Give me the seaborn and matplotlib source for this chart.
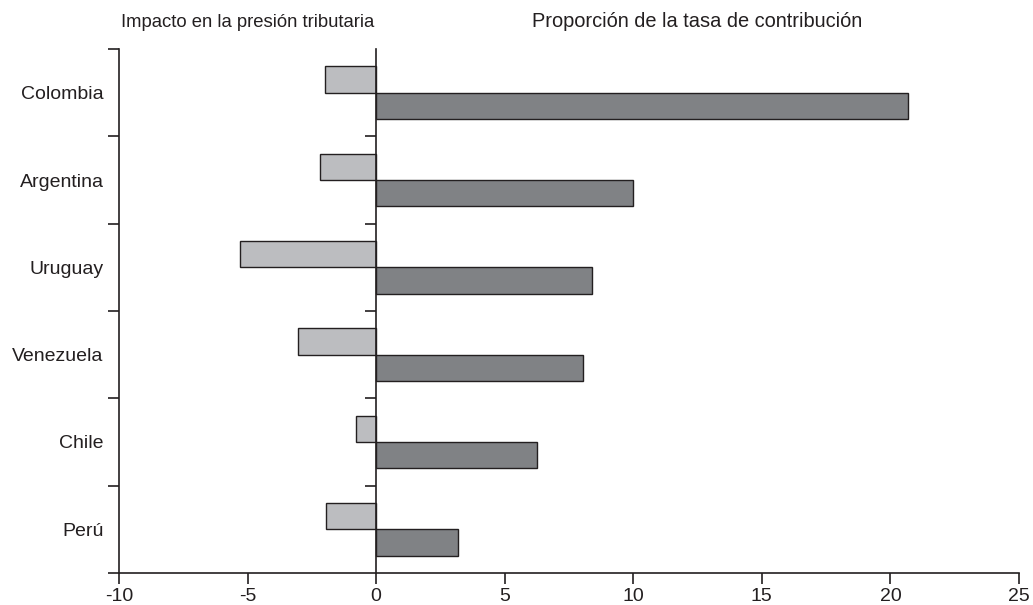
import numpy as np
import pandas as pd
import matplotlib
matplotlib.use("Agg")
import matplotlib.pyplot as plt
import seaborn as sns

paises = ["Colombia", "Argentina", "Uruguay", "Venezuela", "Chile", "Perú"]
impacto_presion = [-2.0, -2.2, -5.3, -3.05, -0.8, -1.95]
proporcion_tasa = [20.7, 10.0, 8.4, 8.05, 6.25, 3.2]
series = ["Impacto en la presión tributaria", "Proporción de la tasa de contribución"]
xticks = [-10, -5, 0, 5, 10, 15, 20, 25]

df = pd.DataFrame({
    "pais": paises * 2,
    "serie": [series[0]] * len(paises) + [series[1]] * len(paises),
    "valor": impacto_presion + proporcion_tasa,
})

sns.set_theme(style="white")
plt.rcParams["font.family"] = ["Liberation Sans", "DejaVu Sans"]

ink = "#231f20"
fig = plt.figure(figsize=(10.33, 6.05), dpi=100)
ax = fig.add_axes([0.1152, 0.0529, 0.8712, 0.8661])

sns.barplot(data=df, y="pais", x="valor", hue="serie", order=paises,
            hue_order=series, palette=["#bcbdc0", "#808285"], orient="h",
            width=0.6, dodge=True, gap=0, edgecolor=ink, linewidth=1.0,
            saturation=1, legend=False, ax=ax)

ax.set_xlim(-10, 25)
ax.set_ylim(len(paises) - 0.5, -0.5)
ax.set_xlabel("")
ax.set_ylabel("")

for side in ["top", "right"]:
    ax.spines[side].set_visible(False)
for side in ["left", "bottom"]:
    ax.spines[side].set_color(ink)
    ax.spines[side].set_linewidth(1.2)

ax.set_xticks(xticks)
ax.set_xticklabels([str(v) for v in xticks])
ax.tick_params(axis="x", direction="out", length=8, width=1.2, color=ink,
               labelsize=14, labelcolor=ink, pad=3, bottom=True)

bounds = np.arange(-0.5, len(paises), 1.0)
ax.set_yticks(range(len(paises)))
ax.set_yticklabels(paises)
ax.set_yticks(bounds, minor=True)
ax.tick_params(axis="y", which="major", length=0, labelsize=14,
               labelcolor=ink, pad=11)
ax.tick_params(axis="y", which="minor", direction="out", length=8,
               width=1.2, color=ink, left=True)

# eje vertical en cero con marcas entre países
ax0 = ax.twinx()
ax0.set_ylim(ax.get_ylim())
for side in ["top", "left", "bottom"]:
    ax0.spines[side].set_visible(False)
ax0.spines["right"].set_position(("data", 0))
ax0.spines["right"].set_color(ink)
ax0.spines["right"].set_linewidth(1.2)
ax0.set_yticks([])
ax0.set_yticks(bounds[1:-1], minor=True)
ax0.tick_params(axis="y", which="minor", direction="in", length=8,
                width=1.2, color=ink, right=True, labelright=False)
ax0.grid(False)

ax.text(-5, 1.035, series[0], transform=ax.get_xaxis_transform(),
        ha="center", va="bottom", fontsize=13.3, color=ink)
ax.text(12.5, 1.035, series[1], transform=ax.get_xaxis_transform(),
        ha="center", va="bottom", fontsize=14.4, color=ink)

fig.savefig("out.png", dpi=100)
